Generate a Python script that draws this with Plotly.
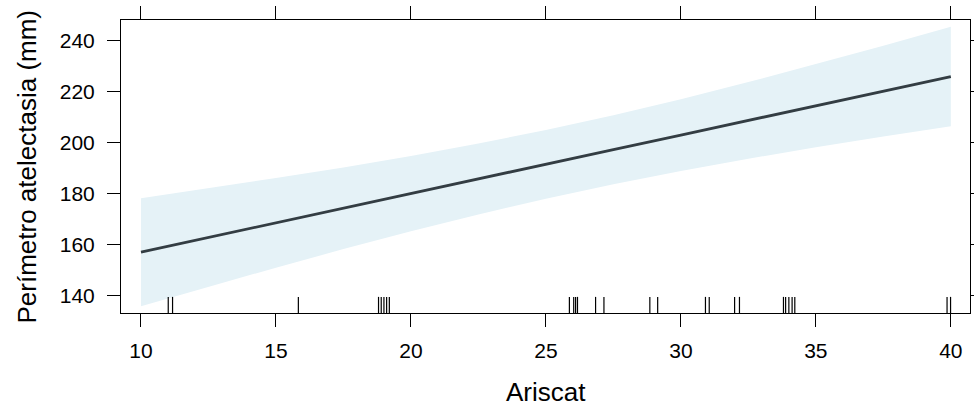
import plotly.graph_objects as go

# Effect line and confidence band
ariscat = [10, 12.5, 15, 17.5, 20, 22.5, 25, 27.5, 30, 32.5, 35, 37.5, 40]
fit =     [157.0, 162.8, 168.5, 174.3, 180.0, 185.8, 191.5, 197.3, 203.0, 208.8, 214.5, 220.3, 226.0]
lower =   [135.8, 143.4, 150.9, 158.2, 165.2, 171.8, 178.0, 183.7, 188.9, 193.7, 198.2, 202.4, 206.5]
upper =   [178.2, 182.1, 186.1, 190.3, 194.8, 199.7, 205.0, 210.8, 217.1, 223.8, 230.9, 238.1, 245.5]

# Rug of observed Ariscat values
rug = [11.01, 11.17, 15.83, 18.8, 18.9, 19.0, 19.1, 19.2,
       25.87, 26.03, 26.1, 26.17, 26.84, 27.15, 28.85, 29.14,
       30.91, 31.05, 31.99, 32.17, 33.8, 33.88, 34.0, 34.12, 34.22,
       39.86, 39.99]

x_ticks = [10, 15, 20, 25, 30, 35, 40]
y_ticks = [140, 160, 180, 200, 220, 240]

x_title = "Ariscat"
y_title = "Perímetro atelectasia (mm)"

FONT = "Liberation Sans, Arial, Helvetica, sans-serif"

fig = go.Figure()
fig.add_trace(go.Scatter(x=ariscat, y=upper, mode="lines", line=dict(width=0),
                         hoverinfo="skip", showlegend=False))
fig.add_trace(go.Scatter(x=ariscat, y=lower, mode="lines", line=dict(width=0),
                         fill="tonexty", fillcolor="rgb(229,242,247)",
                         hoverinfo="skip", showlegend=False))
fig.add_trace(go.Scatter(x=ariscat, y=fit, mode="lines",
                         line=dict(color="#333d43", width=2.8),
                         showlegend=False))

for v in rug:
    fig.add_shape(type="line", xref="x", yref="y domain", x0=v, x1=v, y0=0, y1=0.055,
                  line=dict(color="black", width=1.2))

axis_common = dict(showline=True, linecolor="black", linewidth=1, mirror="allticks",
                   ticks="outside", ticklen=13, tickcolor="black", tickwidth=1,
                   showgrid=False, zeroline=False, automargin=False,
                   tickfont=dict(family=FONT, size=21, color="black"))

fig.update_xaxes(range=[9.26, 40.71], tickvals=x_ticks, ticktext=[str(t) for t in x_ticks],
                 ticklabelstandoff=6, **axis_common)
fig.update_yaxes(range=[133.1, 248.2], tickvals=y_ticks, ticktext=[str(t) for t in y_ticks],
                 ticklabelstandoff=8, **axis_common)

fig.add_annotation(text=x_title, xref="paper", yref="paper", x=(546 - 121) / 849, y=-0.27,
                   xanchor="center", yanchor="middle", showarrow=False,
                   font=dict(family=FONT, size=26, color="black"))
fig.add_annotation(text=y_title, xref="paper", yref="paper", x=(26 - 121) / 849, y=0.5,
                   xanchor="center", yanchor="middle", textangle=-90, showarrow=False,
                   font=dict(family=FONT, size=26, color="black"))

fig.update_layout(width=974, height=407, margin=dict(l=121, r=4, t=20, b=94, autoexpand=False),
                  paper_bgcolor="white", plot_bgcolor="white")

fig.write_html("out.html")
